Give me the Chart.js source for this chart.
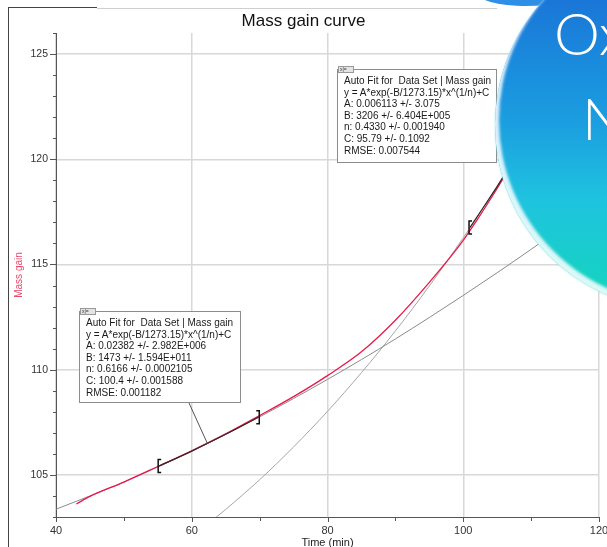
<!DOCTYPE html>
<html><head><meta charset="utf-8">
<script src="https://cdn.jsdelivr.net/npm/chart.js@4.4.1/dist/chart.umd.min.js"></script>
<style>
html,body{margin:0;padding:0;background:#fff;overflow:hidden;width:607px;height:547px;}
#wrap{position:relative;width:607px;height:547px;overflow:hidden;}
#c{position:absolute;left:0;top:0;}
.fitbox{position:absolute;background:#fff;border:1px solid #8c8c8c;font:10px 'Liberation Sans',Arial,sans-serif;color:#1a1a1a;line-height:11.6px;white-space:pre;padding:5px 0 0 6px;box-sizing:border-box;z-index:2;}
.ico{position:absolute;left:0;top:-4px;width:12px;height:5px;background:#e4e4e4;border:1px solid #999;font:5px Arial,sans-serif;line-height:5px;color:#333;padding:0 1px;box-sizing:content-box;}
.frame{position:absolute;z-index:3;}
#circle{position:absolute;left:495px;top:-60px;width:370px;height:370px;border-radius:50%;z-index:5;
background:linear-gradient(to bottom,#1766d2 0%,#1a76d8 16%,#1b9fe0 50%,#1fc3df 70%,#14d4c0 95%);
box-shadow:inset 4px -5px 3px rgba(255,255,255,0.85),0 0 2px rgba(120,230,240,0.9);}
#cap{position:absolute;left:476px;top:-22px;width:100px;height:28px;border-radius:50%;background:#2f8fe6;z-index:4;}
.big{position:absolute;z-index:6;color:#fff;font-family:Lato,'Open Sans',sans-serif;font-weight:300;font-size:58px;line-height:58px;white-space:nowrap;}
</style></head>
<body>
<div id="wrap">
<canvas id="c" width="607" height="547"></canvas>
<div class="frame" style="left:8px;top:7px;width:1px;height:540px;background:#444;"></div>
<div class="frame" style="left:8px;top:7px;width:89px;height:1px;background:#444;"></div>
<div class="frame" style="left:97px;top:8px;width:400px;height:1px;background:#cfcfcf;"></div>
<div class="fitbox" id="box1" style="left:79px;top:311px;width:162px;height:92px;"><div class="ico">x|=</div>Auto Fit for  Data Set | Mass gain
y = A*exp(-B/1273.15)*x^(1/n)+C
A: 0.02382 +/- 2.982E+006
B: 1473 +/- 1.594E+011
n: 0.6166 +/- 0.0002105
C: 100.4 +/- 0.001588
RMSE: 0.001182</div>
<div class="fitbox" id="box2" style="left:337px;top:69px;width:160px;height:94px;"><div class="ico">x|=</div>Auto Fit for  Data Set | Mass gain
y = A*exp(-B/1273.15)*x^(1/n)+C
A: 0.006113 +/- 3.075
B: 3206 +/- 6.404E+005
n: 0.4330 +/- 0.001940
C: 95.79 +/- 0.1092
RMSE: 0.007544</div>
<div id="cap"></div>
<div id="circle"></div>
<div class="big" style="left:554px;top:4px;">Ox</div>
<div class="big" style="left:582px;top:89px;">N</div>
</div>
<script>
// ---- data ----
const xTicks = [40, 60, 80, 100, 120];
const yTicks = [105, 110, 115, 120, 125];

const dataX = [43, 45, 50, 55, 60, 65, 70, 75, 80, 85, 90, 95, 100, 102, 104, 106, 108];
const dataY = [103.62, 103.98, 104.66, 105.40, 106.15, 106.95, 107.82, 108.72, 109.72, 110.85, 112.35, 114.15, 116.15, 117.10, 118.10, 119.15, 120.25];

const fit1X = [40, 45, 50, 55, 60, 65, 70, 75, 80, 85, 90, 95, 100, 105, 110, 115, 120];
const fit1Y = [103.37, 104.00, 104.66, 105.38, 106.13, 106.93, 107.76, 108.63, 109.54, 110.48, 111.46, 112.48, 113.53, 114.61, 115.72, 116.87, 118.03];

const fit2X = [63, 65, 70, 75, 80, 85, 90, 95, 100, 105, 110];
const fit2Y = [102.83, 103.36, 104.77, 106.33, 108.02, 109.86, 111.84, 113.98, 116.27, 118.71, 121.31];

const range1X = [55.2, 60, 65, 69.8];
const range1Y = [105.42, 106.13, 106.93, 107.74];
const range2X = [101, 103, 105, 107, 109];
const range2Y = [116.76, 117.73, 118.71, 119.75, 120.80];

const calloutPoint = [62.3, 106.5];

const pts = (xs, ys) => xs.map((x, i) => ({x: x, y: ys[i]}));

Chart.defaults.font.family = "'Liberation Sans', Arial, sans-serif";

const deco = {
  id: 'deco',
  afterDatasetsDraw(chart) {
    const ctx = chart.ctx, x = chart.scales.x, y = chart.scales.y;
    ctx.save();
    ctx.strokeStyle = '#555';
    ctx.lineWidth = 1;
    for (let v = 103; v <= 126; v++) {
      const py = Math.round(y.getPixelForValue(v)) + 0.5;
      const len = v % 5 === 0 ? 6 : 3;
      ctx.beginPath(); ctx.moveTo(x.left - len, py); ctx.lineTo(x.left, py); ctx.stroke();
    }
    for (let v = 40; v <= 120; v += 10) {
      const px = Math.round(x.getPixelForValue(v)) + 0.5;
      const len = v % 20 === 0 ? 5 : 4;
      ctx.beginPath(); ctx.moveTo(px, y.bottom); ctx.lineTo(px, y.bottom + len); ctx.stroke();
    }
    // range brackets
    ctx.strokeStyle = '#111';
    ctx.lineWidth = 1.5;
    const bracket = (vx, vy, dir) => {
      const px = x.getPixelForValue(vx) - dir, py = y.getPixelForValue(vy);
      ctx.beginPath();
      ctx.moveTo(px + 3 * dir, py - 6.5);
      ctx.lineTo(px, py - 6.5);
      ctx.lineTo(px, py + 6.5);
      ctx.lineTo(px + 3 * dir, py + 6.5);
      ctx.stroke();
    };
    bracket(range1X[0], range1Y[0], 1);
    bracket(range1X[range1X.length - 1], range1Y[range1Y.length - 1], -1);
    bracket(range2X[0], range2Y[0], 1);
    // callout from fit box 1
    ctx.strokeStyle = '#555';
    ctx.lineWidth = 1;
    ctx.beginPath();
    ctx.moveTo(189, 403);
    ctx.lineTo(x.getPixelForValue(calloutPoint[0]), y.getPixelForValue(calloutPoint[1]));
    ctx.stroke();
    ctx.restore();
  }
};

const lineDs = (d, color, w) => ({
  data: d, borderColor: color, borderWidth: w, pointRadius: 0,
  cubicInterpolationMode: 'monotone', fill: false
});

new Chart(document.getElementById('c'), {
  type: 'line',
  data: {
    datasets: [
      lineDs(pts(range1X, range1Y), '#3a2626', 1.2),
      lineDs(pts(range2X, range2Y), '#3a2626', 1.2),
      lineDs(pts(dataX, dataY), '#e8194b', 1.3),
      lineDs(pts(fit1X, fit1Y), '#8a8a8a', 1),
      lineDs(pts(fit2X, fit2Y), '#a5a5a5', 1)
    ]
  },
  options: {
    responsive: false, animation: false, devicePixelRatio: 1,
    layout: {padding: 0},
    plugins: {
      legend: {display: false}, tooltip: {enabled: false},
      title: {display: true, text: 'Mass gain curve', color: '#111',
        font: {size: 17, weight: 'normal'}, padding: {top: 11, bottom: 1.6}}
    },
    scales: {
      x: {
        type: 'linear', min: 40, max: 120,
        afterBuildTicks: s => { s.ticks = xTicks.map(v => ({value: v})); },
        afterFit: s => { s.height = 30; s.paddingRight = 8; s.paddingLeft = 0; },
        grid: {color: '#d8d8d8', lineWidth: 1.5, drawTicks: false},
        border: {color: '#555', width: 1},
        ticks: {padding: 7, color: '#333', font: {size: 11}, maxRotation: 0, autoSkip: false},
        title: {display: true, text: 'Time (min)', color: '#222', font: {size: 11}, padding: {top: 0, bottom: -3}}
      },
      y: {
        type: 'linear', min: 103, max: 126,
        afterBuildTicks: s => { s.ticks = yTicks.map(v => ({value: v})); },
        afterFit: s => { s.width = 56; },
        grid: {color: '#d8d8d8', lineWidth: 1.5, drawTicks: false},
        border: {color: '#555', width: 1},
        ticks: {padding: 8, color: '#333', font: {size: 10.5}, autoSkip: false},
        title: {display: true, text: 'Mass gain', color: '#e8476a', font: {size: 10}, padding: {top: 13, bottom: 0}}
      }
    }
  },
  plugins: [deco]
});
</script>
</body></html>
